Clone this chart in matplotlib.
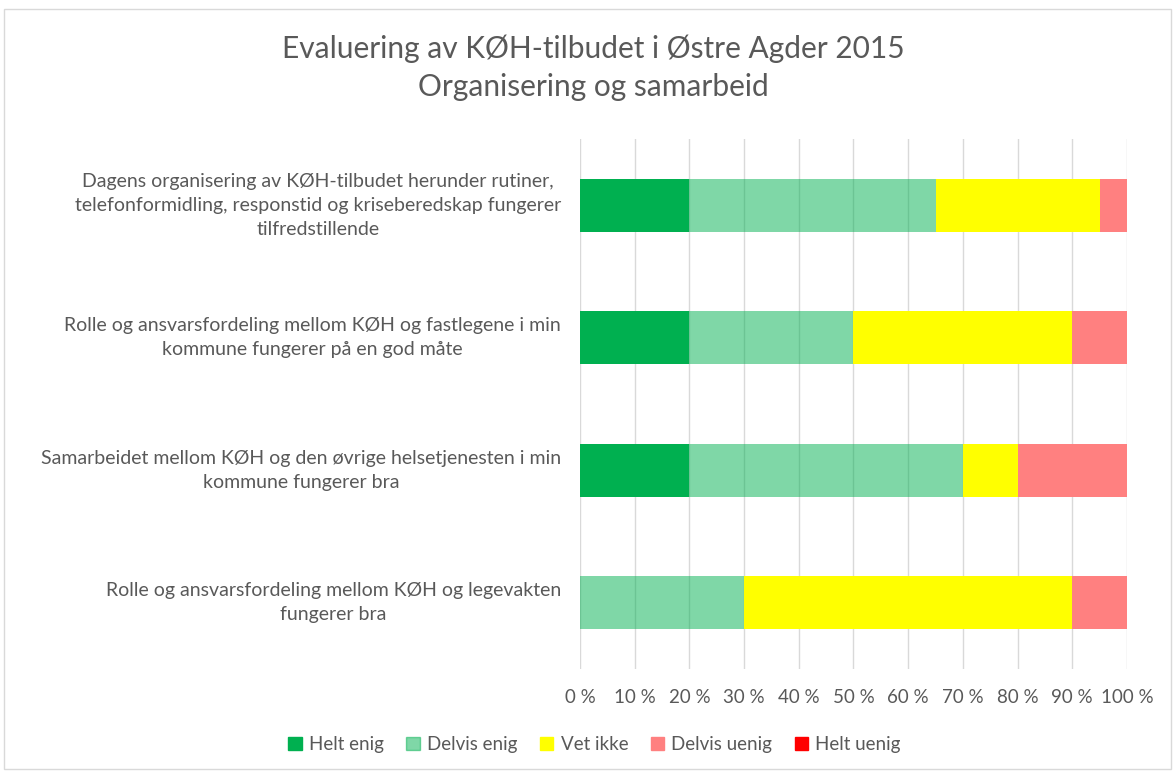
import numpy as np
import matplotlib.pyplot as plt
from matplotlib.patches import Rectangle

plt.rcParams['font.family'] = ['Lato', 'DejaVu Sans']

statements = [
    'Dagens organisering av KØH-tilbudet herunder rutiner,\ntelefonformidling, responstid og kriseberedskap fungerer\ntilfredstillende',
    'Rolle og ansvarsfordeling mellom KØH og fastlegene i min\nkommune fungerer på en god måte',
    'Samarbeidet mellom KØH og den øvrige helsetjenesten i min\nkommune fungerer bra',
    'Rolle og ansvarsfordeling mellom KØH og legevakten\nfungerer bra',
]
series = ['Helt enig', 'Delvis enig', 'Vet ikke', 'Delvis uenig', 'Helt uenig']
helt_enig = [20, 20, 20, 0]
delvis_enig = [45, 30, 50, 30]
vet_ikke = [30, 40, 10, 60]
delvis_uenig = [5, 10, 20, 10]
helt_uenig = [0, 0, 0, 0]
colors = ['#00B050', '#00B050', '#FFFF00', '#FF8080', '#FF0000']
alphas = [1, 0.5, 1, 1, 1]

grey = '#595959'
fig = plt.figure(figsize=(11.75, 7.71), dpi=100)
ax = fig.add_axes([0.4936, 0.132, 0.4655, 0.688])

vals = [helt_enig, delvis_enig, vet_ikke, delvis_uenig, helt_uenig]
y = np.arange(len(statements))
left = np.zeros(len(statements))
for name, v, c, a in zip(series, vals, colors, alphas):
    v = np.array(v, dtype=float)
    ax.barh(y, v, left=left, height=0.4, color=c, alpha=a, label=name, zorder=2, lw=0)
    left += v

ax.set_xlim(0, 100)
ax.set_ylim(3.5, -0.5)
ax.set_xticks(np.arange(0, 101, 10))
ax.set_xticklabels([f'{t} %' for t in range(0, 101, 10)], fontsize=13.5, color=grey)
ax.xaxis.grid(True, color='#D9D9D9', lw=1, zorder=1)
ax.set_axisbelow(True)
ax.set_yticks(y)
ax.set_yticklabels([])
for yi, s in zip(y, statements):
    ax.text(-0.035, yi, s, transform=ax.get_yaxis_transform(), ha='right', va='center',
            multialignment='center', fontsize=14, color=grey, linespacing=1.5)
ax.tick_params(length=0, pad=14)
for s in ax.spines.values():
    s.set_visible(False)

fig.text(0.505, 0.912, 'Evaluering av KØH-tilbudet i Østre Agder 2015\nOrganisering og samarbeid',
         ha='center', va='center', fontsize=21.5, color=grey, linespacing=1.4)

handles = [Rectangle((0, 0), 1, 1, color=c, alpha=a) for c, a in zip(colors, alphas)]
fig.legend(handles, series, loc='center', bbox_to_anchor=(0.506, 0.034), ncol=5, frameon=False,
           fontsize=13.5, labelcolor=grey, handlelength=0.7, handleheight=0.7, handletextpad=0.4,
           columnspacing=1.2)

fig.patches.append(Rectangle((0.003, 0.003), 0.994, 0.985, transform=fig.transFigure,
                             fill=False, edgecolor='#D9D9D9', lw=1))

plt.savefig('out.png', dpi=100)
